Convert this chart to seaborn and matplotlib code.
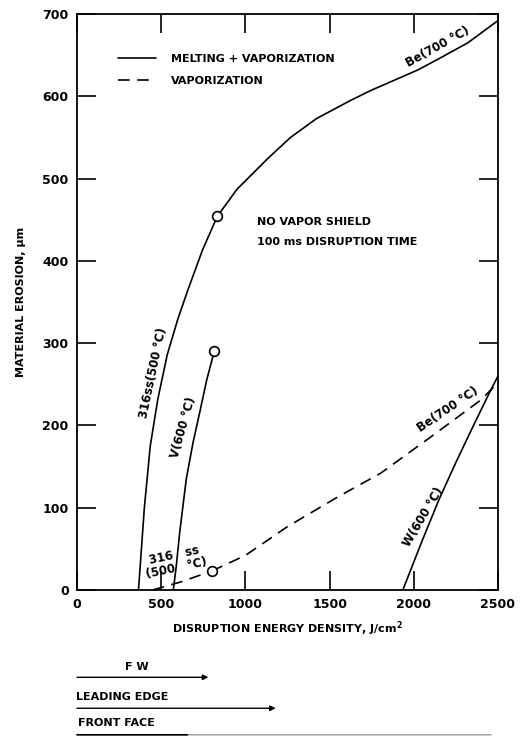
import seaborn as sns
import matplotlib.pyplot as plt
from matplotlib.lines import Line2D
import pandas as pd

# curves (energy J/cm2, erosion um)
ss_melt_x = [365, 375, 400, 435, 480, 536, 600, 661, 745, 833]
ss_melt_y = [0, 28, 100, 175, 232, 286, 330, 366, 413, 454]
be_melt_x = [833, 950, 1131, 1268, 1423, 1625, 1744, 2024, 2143, 2321, 2500]
be_melt_y = [454, 487, 524, 550, 573, 595, 607, 632, 645, 665, 692]
v_melt_x = [572, 589, 610, 649, 690, 729, 770, 815]
v_melt_y = [0, 28, 70, 135, 180, 216, 255, 290]
w_melt_x = [1935, 2050, 2150, 2250, 2350, 2450, 2500]
w_melt_y = [0, 60, 110, 155, 198, 240, 260]
ss_vap_x = [450, 620, 800]
ss_vap_y = [0, 10, 23]
be_vap_x = [800, 1000, 1250, 1548, 1804, 2101, 2399, 2500]
be_vap_y = [23, 42, 77, 113, 142, 186, 231, 252]

# end points marked with open circles
end_x = [833, 815, 800]
end_y = [454, 290, 23]

# extent arrows under the axis
fw_end = 780
le_end = 1180
ff_end = 2460

sns.set_style('ticks')
plt.rcParams['font.family'] = ['DejaVu Sans']
plt.rcParams['font.weight'] = 'bold'
for k in ['text.color', 'axes.labelcolor', 'xtick.color', 'ytick.color', 'axes.edgecolor']:
    plt.rcParams[k] = 'black'

fig = plt.figure(figsize=(5.22, 7.37), dpi=100)
ax = fig.add_axes([0.1475, 0.1995, 0.8065, 0.7815])

lw = 1.2
dash = (0, (7, 4.5))
for xs, ys in [(ss_melt_x, ss_melt_y), (be_melt_x, be_melt_y),
               (v_melt_x, v_melt_y), (w_melt_x, w_melt_y)]:
    df = pd.DataFrame({'x': xs, 'y': ys})
    sns.lineplot(data=df, x='x', y='y', ax=ax, color='black', lw=lw,
                 estimator=None, sort=False)
for xs, ys in [(ss_vap_x, ss_vap_y), (be_vap_x, be_vap_y)]:
    df = pd.DataFrame({'x': xs, 'y': ys})
    sns.lineplot(data=df, x='x', y='y', ax=ax, color='black', lw=lw,
                 estimator=None, sort=False, linestyle=dash)

ax.plot(end_x, end_y, 'o', ms=7, mfc='white', mec='black', mew=1.2, zorder=5)

ax.set_xlim(0, 2500)
ax.set_ylim(0, 700)
ax.set_xticks([0, 500, 1000, 1500, 2000, 2500])
ax.set_yticks(range(0, 701, 100))
ax.tick_params(direction='in', length=14, width=1.2, top=True, right=True,
               labelsize=9, pad=6)
for s in ax.spines.values():
    s.set_linewidth(1.3)
ax.set_xlabel('DISRUPTION ENERGY DENSITY, J/cm$^\\mathbf{2}$', fontsize=8, fontweight='bold', labelpad=6)
ax.set_ylabel('MATERIAL EROSION, \u03bcm', fontsize=8, fontweight='bold', labelpad=12)

handles = [Line2D([], [], color='black', lw=lw),
           Line2D([], [], color='black', lw=lw, linestyle=dash)]
ax.legend(handles, ['MELTING + VAPORIZATION', 'VAPORIZATION'], loc='upper left',
          bbox_to_anchor=(0.085, 0.94), frameon=False, fontsize=8,
          handlelength=3.4, handletextpad=1.3, labelspacing=1.1, borderpad=0)

ax.text(1070, 447, 'NO VAPOR SHIELD', fontsize=8, va='center')
ax.text(1070, 423, '100 ms DISRUPTION TIME', fontsize=8, va='center')

ax.text(2143, 660, 'Be(700 \u00b0C)', fontsize=8.5, rotation=29, ha='center', va='center')
ax.text(452, 264, '316ss(500 \u00b0C)', fontsize=8.5, rotation=78, ha='center', va='center')
ax.text(631, 197, 'V(600 \u00b0C)', fontsize=8.5, rotation=74, ha='center', va='center')
ax.text(583, 34, '316   ss\n(500   \u00b0C)', fontsize=8.5, rotation=12, ha='center', va='center',
        linespacing=1.0)
ax.text(2202, 219, 'Be(700 \u00b0C)', fontsize=8.5, rotation=34, ha='center', va='center')
ax.text(2054, 89, 'W(600 \u00b0C)', fontsize=8.5, rotation=59, ha='center', va='center')

# FW / leading edge / front face extents below the plot
arrow = dict(arrowstyle='-|>', lw=1.0, color='black', mutation_scale=8, shrinkA=0, shrinkB=0)
ax.annotate('', xy=(fw_end, 0.081), xytext=(0, 0.081),
            xycoords=('data', 'figure fraction'), arrowprops=arrow, annotation_clip=False)
ax.annotate('', xy=(le_end, 0.039), xytext=(0, 0.039),
            xycoords=('data', 'figure fraction'), arrowprops=arrow, annotation_clip=False)
ax.annotate('', xy=(ff_end, 0.003), xytext=(0, 0.003),
            xycoords=('data', 'figure fraction'),
            arrowprops=dict(arrowstyle='-', lw=1.0, color='0.6', shrinkA=0, shrinkB=0),
            annotation_clip=False)
ax.annotate('', xy=(655, 0.003), xytext=(0, 0.003),
            xycoords=('data', 'figure fraction'),
            arrowprops=dict(arrowstyle='-', lw=1.2, color='black', shrinkA=0, shrinkB=0),
            annotation_clip=False)
fig.text(0.2625, 0.095, 'F W', fontsize=8, ha='center', va='center')
fig.text(0.145, 0.054, 'LEADING EDGE', fontsize=8, ha='left', va='center')
fig.text(0.150, 0.019, 'FRONT FACE', fontsize=8, ha='left', va='center')

fig.savefig('out.png', dpi=100, facecolor='white')
